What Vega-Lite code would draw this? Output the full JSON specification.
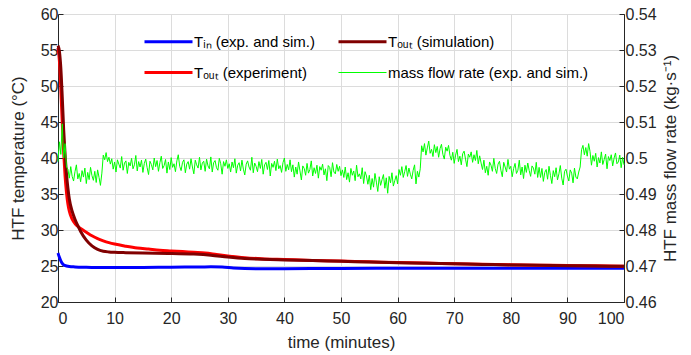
{
"$schema": "https://vega.github.io/schema/vega-lite/v6.json",
"width": 566, "height": 288,
"autosize": {"type": "none"},
"padding": {"left": 58, "top": 14, "right": 67, "bottom": 53},
"background": "white",
"config": {
  "font": "Liberation Sans",
  "view": {"stroke": "#262626", "strokeWidth": 1},
  "axis": {"labelFontSize": 16, "titleFontSize": 17, "titleFontWeight": "normal", "labelColor": "#262626", "titleColor": "#262626", "domainColor": "#262626", "tickColor": "#262626", "tickSize": -5, "gridColor": "#dcdcdc", "gridWidth": 1, "labelPadding": 5},
  "legend": {"orient": "none", "legendX": 103, "legendY": 20, "columns": 2, "symbolType": "M-2.4,0H2.4", "symbolSize": 400, "labelOffset": 18, "columnPadding": 17, "rowPadding": 15, "labelFontSize": 15, "labelColor": "#000000", "labelLimit": 0, "padding": 0, "symbolStrokeWidth": 3}
},
"datasets": {
"temp": [
{"s":"Tin","t":0,"T":26.8},{"s":"Tin","t":0.25,"T":26.2},{"s":"Tin","t":0.5,"T":25.7},{"s":"Tin","t":0.75,"T":25.35},{"s":"Tin","t":1,"T":25.15},{"s":"Tin","t":1.5,"T":25.0},{"s":"Tin","t":2,"T":24.92},{"s":"Tin","t":3,"T":24.87},{"s":"Tin","t":5,"T":24.82},{"s":"Tin","t":8,"T":24.78},{"s":"Tin","t":10,"T":24.78},{"s":"Tin","t":15,"T":24.8},{"s":"Tin","t":20,"T":24.83},{"s":"Tin","t":25,"T":24.87},{"s":"Tin","t":27,"T":24.88},{"s":"Tin","t":29,"T":24.85},{"s":"Tin","t":31,"T":24.72},{"s":"Tin","t":33,"T":24.65},{"s":"Tin","t":36,"T":24.62},{"s":"Tin","t":40,"T":24.63},{"s":"Tin","t":50,"T":24.67},{"s":"Tin","t":60,"T":24.7},{"s":"Tin","t":70,"T":24.7},{"s":"Tin","t":80,"T":24.7},{"s":"Tin","t":90,"T":24.7},{"s":"Tin","t":100,"T":24.68},
{"s":"ToutExp","t":0,"T":55.3},{"s":"ToutExp","t":0.25,"T":53.5},{"s":"ToutExp","t":0.5,"T":49.5},{"s":"ToutExp","t":0.75,"T":45.0},{"s":"ToutExp","t":1,"T":40.8},{"s":"ToutExp","t":1.25,"T":37.5},{"s":"ToutExp","t":1.5,"T":35.2},{"s":"ToutExp","t":1.75,"T":33.6},{"s":"ToutExp","t":2,"T":32.6},{"s":"ToutExp","t":2.5,"T":31.5},{"s":"ToutExp","t":3,"T":30.9},{"s":"ToutExp","t":3.5,"T":30.5},{"s":"ToutExp","t":4,"T":30.2},{"s":"ToutExp","t":5,"T":29.7},{"s":"ToutExp","t":6,"T":29.2},{"s":"ToutExp","t":7,"T":28.8},{"s":"ToutExp","t":8,"T":28.5},{"s":"ToutExp","t":9,"T":28.25},{"s":"ToutExp","t":10,"T":28.05},{"s":"ToutExp","t":12,"T":27.75},{"s":"ToutExp","t":14,"T":27.5},{"s":"ToutExp","t":16,"T":27.35},{"s":"ToutExp","t":18,"T":27.2},{"s":"ToutExp","t":20,"T":27.1},{"s":"ToutExp","t":22,"T":27.0},{"s":"ToutExp","t":24,"T":26.9},{"s":"ToutExp","t":26,"T":26.8},{"s":"ToutExp","t":28,"T":26.6},{"s":"ToutExp","t":30,"T":26.4},{"s":"ToutExp","t":33,"T":26.15},{"s":"ToutExp","t":36,"T":26.0},{"s":"ToutExp","t":40,"T":25.9},{"s":"ToutExp","t":45,"T":25.78},{"s":"ToutExp","t":50,"T":25.68},{"s":"ToutExp","t":55,"T":25.58},{"s":"ToutExp","t":60,"T":25.48},{"s":"ToutExp","t":65,"T":25.4},{"s":"ToutExp","t":70,"T":25.32},{"s":"ToutExp","t":75,"T":25.25},{"s":"ToutExp","t":80,"T":25.18},{"s":"ToutExp","t":85,"T":25.12},{"s":"ToutExp","t":90,"T":25.07},{"s":"ToutExp","t":95,"T":25.03},{"s":"ToutExp","t":100,"T":24.98},
{"s":"ToutSim","t":0,"T":55.6},{"s":"ToutSim","t":0.25,"T":54.8},{"s":"ToutSim","t":0.5,"T":52.5},{"s":"ToutSim","t":0.75,"T":48.5},{"s":"ToutSim","t":1,"T":44.0},{"s":"ToutSim","t":1.25,"T":40.5},{"s":"ToutSim","t":1.5,"T":37.8},{"s":"ToutSim","t":1.75,"T":35.8},{"s":"ToutSim","t":2,"T":34.3},{"s":"ToutSim","t":2.5,"T":32.6},{"s":"ToutSim","t":3,"T":31.5},{"s":"ToutSim","t":3.5,"T":30.6},{"s":"ToutSim","t":4,"T":29.8},{"s":"ToutSim","t":5,"T":28.6},{"s":"ToutSim","t":6,"T":27.8},{"s":"ToutSim","t":7,"T":27.3},{"s":"ToutSim","t":8,"T":27.05},{"s":"ToutSim","t":9,"T":26.95},{"s":"ToutSim","t":10,"T":26.9},{"s":"ToutSim","t":12,"T":26.85},{"s":"ToutSim","t":15,"T":26.8},{"s":"ToutSim","t":20,"T":26.75},{"s":"ToutSim","t":24,"T":26.65},{"s":"ToutSim","t":27,"T":26.5},{"s":"ToutSim","t":30,"T":26.25},{"s":"ToutSim","t":33,"T":26.05},{"s":"ToutSim","t":36,"T":25.95},{"s":"ToutSim","t":40,"T":25.85},{"s":"ToutSim","t":45,"T":25.75},{"s":"ToutSim","t":50,"T":25.65},{"s":"ToutSim","t":55,"T":25.55},{"s":"ToutSim","t":60,"T":25.45},{"s":"ToutSim","t":65,"T":25.38},{"s":"ToutSim","t":70,"T":25.3},{"s":"ToutSim","t":75,"T":25.22},{"s":"ToutSim","t":80,"T":25.15},{"s":"ToutSim","t":85,"T":25.1},{"s":"ToutSim","t":90,"T":25.05},{"s":"ToutSim","t":95,"T":25.0},{"s":"ToutSim","t":100,"T":24.95}
],
"flow": [
{"t":0,"m":0.4990},{"t":0.25,"m":0.5045},{"t":0.5,"m":0.5010},{"t":0.75,"m":0.5095},{"t":1,"m":0.5000},{"t":1.25,"m":0.5040},{"t":1.5,"m":0.4975},
{"t":1.75,"m":0.4969},{"t":2,"m":0.4944},{"t":2.25,"m":0.4976},{"t":2.5,"m":0.4949},{"t":2.75,"m":0.4936},{"t":3,"m":0.4962},{"t":3.25,"m":0.4981},{"t":3.5,"m":0.4942},{"t":3.75,"m":0.4957},{"t":4,"m":0.4934},{"t":4.25,"m":0.4965},{"t":4.5,"m":0.4947},{"t":4.75,"m":0.4972},{"t":5,"m":0.4929},{"t":5.25,"m":0.4960},{"t":5.5,"m":0.4940},{"t":5.75,"m":0.4974},{"t":6,"m":0.4951},{"t":6.25,"m":0.4938},{"t":6.5,"m":0.4963},{"t":6.75,"m":0.4932},{"t":7,"m":0.4967},{"t":7.25,"m":0.4946},{"t":7.5,"m":0.4924},{"t":7.75,"m":0.4958},
{"t":8,"m":0.5008},{"t":8.25,"m":0.4995},{"t":8.5,"m":0.5015},{"t":8.75,"m":0.4990},{"t":9,"m":0.5002},{"t":9.25,"m":0.4983},{"t":9.5,"m":0.4998},
{"t":9.75,"m":0.4969},{"t":10,"m":0.4989},{"t":10.25,"m":0.4961},{"t":10.5,"m":0.4995},{"t":10.75,"m":0.4983},{"t":11,"m":0.4972},{"t":11.25,"m":0.5004},{"t":11.5,"m":0.4966},{"t":11.75,"m":0.4986},{"t":12,"m":0.4992},{"t":12.25,"m":0.4957},{"t":12.5,"m":0.4988},{"t":12.75,"m":0.4978},{"t":13,"m":0.4999},{"t":13.25,"m":0.4970},{"t":13.5,"m":0.4981},{"t":13.75,"m":0.5007},{"t":14,"m":0.4964},{"t":14.25,"m":0.4990},{"t":14.5,"m":0.4975},{"t":14.75,"m":0.4994},{"t":15,"m":0.4960},{"t":15.25,"m":0.4985},{"t":15.5,"m":0.4997},{"t":15.75,"m":0.4973},{"t":16,"m":0.4954},{"t":16.25,"m":0.4991},{"t":16.5,"m":0.4982},{"t":16.75,"m":0.4967},{"t":17,"m":0.5000},{"t":17.25,"m":0.4976},{"t":17.5,"m":0.4993},{"t":17.75,"m":0.4963},{"t":18,"m":0.4987},{"t":18.25,"m":0.5005},{"t":18.5,"m":0.4971},{"t":18.75,"m":0.4979},{"t":19,"m":0.4996},{"t":19.25,"m":0.4958},{"t":19.5,"m":0.4989},{"t":19.75,"m":0.4968},{"t":20,"m":0.5001},{"t":20.25,"m":0.4974},{"t":20.5,"m":0.4984},{"t":20.75,"m":0.4962},{"t":21,"m":0.4992},{"t":21.25,"m":0.5009},{"t":21.5,"m":0.4977},{"t":21.75,"m":0.4965},{"t":22,"m":0.4988},{"t":22.25,"m":0.4995},{"t":22.5,"m":0.4959},{"t":22.75,"m":0.4983},{"t":23,"m":0.4990},{"t":23.25,"m":0.4969},{"t":23.5,"m":0.4998},{"t":23.75,"m":0.4975},{"t":24,"m":0.4956},{"t":24.25,"m":0.4994},{"t":24.5,"m":0.4981},{"t":24.75,"m":0.4972},{"t":25,"m":0.5002},{"t":25.25,"m":0.4967},{"t":25.5,"m":0.4986},{"t":25.75,"m":0.4991},{"t":26,"m":0.4963},{"t":26.25,"m":0.4997},{"t":26.5,"m":0.4978},{"t":26.75,"m":0.4970},{"t":27,"m":0.5003},{"t":27.25,"m":0.4961},{"t":27.5,"m":0.4987},{"t":27.75,"m":0.4993},{"t":28,"m":0.4973},{"t":28.25,"m":0.4966},{"t":28.5,"m":0.4999},{"t":28.75,"m":0.4984},{"t":29,"m":0.4955},{"t":29.25,"m":0.4990},{"t":29.5,"m":0.4977},{"t":29.75,"m":0.4995},{"t":30,"m":0.4971},
{"t":30.25,"m":0.4984},{"t":30.5,"m":0.4961},{"t":30.75,"m":0.4989},{"t":31,"m":0.4973},{"t":31.25,"m":0.4998},{"t":31.5,"m":0.4958},{"t":31.75,"m":0.4980},{"t":32,"m":0.4987},{"t":32.25,"m":0.4964},{"t":32.5,"m":0.4994},{"t":32.75,"m":0.4969},{"t":33,"m":0.4953},{"t":33.25,"m":0.4983},{"t":33.5,"m":0.4992},{"t":33.75,"m":0.4975},{"t":34,"m":0.4966},{"t":34.25,"m":0.5002},{"t":34.5,"m":0.4959},{"t":34.75,"m":0.4986},{"t":35,"m":0.4977},{"t":35.25,"m":0.4962},{"t":35.5,"m":0.4990},{"t":35.75,"m":0.4971},{"t":36,"m":0.4996},{"t":36.25,"m":0.4955},{"t":36.5,"m":0.4981},{"t":36.75,"m":0.4988},{"t":37,"m":0.4968},{"t":37.25,"m":0.4993},{"t":37.5,"m":0.4950},{"t":37.75,"m":0.4985},{"t":38,"m":0.4974},{"t":38.25,"m":0.4991},{"t":38.5,"m":0.4965},{"t":38.75,"m":0.4997},{"t":39,"m":0.4970},{"t":39.25,"m":0.4979},{"t":39.5,"m":0.4960},{"t":39.75,"m":0.4987},{"t":40,"m":0.5000},{"t":40.25,"m":0.4963},{"t":40.5,"m":0.4982},{"t":40.75,"m":0.4967},{"t":41,"m":0.4995},
{"t":41.25,"m":0.4962},{"t":41.5,"m":0.4981},{"t":41.75,"m":0.4947},{"t":42,"m":0.4975},{"t":42.25,"m":0.4955},{"t":42.5,"m":0.4989},{"t":42.75,"m":0.4964},{"t":43,"m":0.4939},{"t":43.25,"m":0.4978},{"t":43.5,"m":0.4971},{"t":43.75,"m":0.4952},{"t":44,"m":0.4985},{"t":44.25,"m":0.4958},{"t":44.5,"m":0.4968},{"t":44.75,"m":0.4992},{"t":45,"m":0.4950},{"t":45.25,"m":0.4973},{"t":45.5,"m":0.4957},{"t":45.75,"m":0.4980},{"t":46,"m":0.4944},{"t":46.25,"m":0.4976},{"t":46.5,"m":0.4966},{"t":46.75,"m":0.4983},{"t":47,"m":0.4953},{"t":47.25,"m":0.4970},{"t":47.5,"m":0.4937},{"t":47.75,"m":0.4979},{"t":48,"m":0.4974},{"t":48.25,"m":0.4948},{"t":48.5,"m":0.4987},{"t":48.75,"m":0.4961},{"t":49,"m":0.4956},{"t":49.25,"m":0.4982},{"t":49.5,"m":0.4963},{"t":49.75,"m":0.4977},{"t":50,"m":0.4951},
{"t":50.25,"m":0.4967},{"t":50.5,"m":0.4946},{"t":50.75,"m":0.4975},{"t":51,"m":0.4940},{"t":51.25,"m":0.4959},{"t":51.5,"m":0.4933},{"t":51.75,"m":0.4971},{"t":52,"m":0.4952},{"t":52.25,"m":0.4964},{"t":52.5,"m":0.4937},{"t":52.75,"m":0.4980},{"t":53,"m":0.4948},{"t":53.25,"m":0.4956},{"t":53.5,"m":0.4942},{"t":53.75,"m":0.4973},{"t":54,"m":0.4929},{"t":54.25,"m":0.4962},{"t":54.5,"m":0.4950},
{"t":54.75,"m":0.4927},{"t":55,"m":0.4952},{"t":55.25,"m":0.4912},{"t":55.5,"m":0.4943},{"t":55.75,"m":0.4919},{"t":56,"m":0.4957},{"t":56.25,"m":0.4933},{"t":56.5,"m":0.4907},{"t":56.75,"m":0.4948},{"t":57,"m":0.4924},{"t":57.25,"m":0.4940},{"t":57.5,"m":0.4954},{"t":57.75,"m":0.4916},{"t":58,"m":0.4945},{"t":58.25,"m":0.4902},{"t":58.5,"m":0.4949},{"t":58.75,"m":0.4931},{"t":59,"m":0.4959},{"t":59.25,"m":0.4922},{"t":59.5,"m":0.4937},{"t":59.75,"m":0.4951},{"t":60,"m":0.4928},
{"t":60.25,"m":0.4968},{"t":60.5,"m":0.4952},{"t":60.75,"m":0.4976},{"t":61,"m":0.4946},{"t":61.25,"m":0.4962},{"t":61.5,"m":0.4979},{"t":61.75,"m":0.4949},{"t":62,"m":0.4972},{"t":62.25,"m":0.4955},{"t":62.5,"m":0.4942},{"t":62.75,"m":0.4966},{"t":63,"m":0.4981},{"t":63.25,"m":0.4928},{"t":63.5,"m":0.4963},{"t":63.75,"m":0.4947},{"t":64,"m":0.4970},
{"t":64.25,"m":0.5034},{"t":64.5,"m":0.5017},{"t":64.75,"m":0.5040},{"t":65,"m":0.5008},{"t":65.25,"m":0.5028},{"t":65.5,"m":0.5047},{"t":65.75,"m":0.5013},{"t":66,"m":0.5024},{"t":66.25,"m":0.5004},{"t":66.5,"m":0.5037},{"t":66.75,"m":0.5015},{"t":67,"m":0.5032},{"t":67.25,"m":0.5002},{"t":67.5,"m":0.5026},{"t":67.75,"m":0.5038},{"t":68,"m":0.5010},{"t":68.25,"m":0.4997},{"t":68.5,"m":0.5030},{"t":68.75,"m":0.5019},{"t":69,"m":0.5035},{"t":69.25,"m":0.5007},
{"t":69.5,"m":0.4994},{"t":69.75,"m":0.5016},{"t":70,"m":0.4985},{"t":70.25,"m":0.5008},{"t":70.5,"m":0.5024},{"t":70.75,"m":0.4990},{"t":71,"m":0.5005},{"t":71.25,"m":0.4981},{"t":71.5,"m":0.5012},{"t":71.75,"m":0.5019},{"t":72,"m":0.4997},{"t":72.25,"m":0.4976},{"t":72.5,"m":0.5011},{"t":72.75,"m":0.5002},{"t":73,"m":0.5017},{"t":73.25,"m":0.4988},{"t":73.5,"m":0.5009},{"t":73.75,"m":0.4993},{"t":74,"m":0.5021},{"t":74.25,"m":0.4984},{"t":74.5,"m":0.5006},
{"t":74.75,"m":0.4986},{"t":75,"m":0.4968},{"t":75.25,"m":0.4994},{"t":75.5,"m":0.4959},{"t":75.75,"m":0.4977},{"t":76,"m":0.4952},{"t":76.25,"m":0.4989},{"t":76.5,"m":0.4980},{"t":76.75,"m":0.4963},{"t":77,"m":0.4999},{"t":77.25,"m":0.4971},{"t":77.5,"m":0.4957},{"t":77.75,"m":0.4983},{"t":78,"m":0.4991},{"t":78.25,"m":0.4966},{"t":78.5,"m":0.4948},{"t":78.75,"m":0.4988},{"t":79,"m":0.4975},{"t":79.25,"m":0.4961},{"t":79.5,"m":0.4996},{"t":79.75,"m":0.4969},{"t":80,"m":0.4977},{"t":80.25,"m":0.4948},{"t":80.5,"m":0.4971},{"t":80.75,"m":0.4985},{"t":81,"m":0.4957},{"t":81.25,"m":0.4966},{"t":81.5,"m":0.4994},{"t":81.75,"m":0.4953},{"t":82,"m":0.4975},{"t":82.25,"m":0.4943},{"t":82.5,"m":0.4980},{"t":82.75,"m":0.4960},{"t":83,"m":0.4986},{"t":83.25,"m":0.4965},{"t":83.5,"m":0.4949},{"t":83.75,"m":0.4978},{"t":84,"m":0.4972},{"t":84.25,"m":0.4955},{"t":84.5,"m":0.4988},{"t":84.75,"m":0.4946},{"t":85,"m":0.4974},
{"t":85.25,"m":0.4946},{"t":85.5,"m":0.4971},{"t":85.75,"m":0.4935},{"t":86,"m":0.4960},{"t":86.25,"m":0.4968},{"t":86.5,"m":0.4941},{"t":86.75,"m":0.4977},{"t":87,"m":0.4952},{"t":87.25,"m":0.4929},{"t":87.5,"m":0.4965},{"t":87.75,"m":0.4948},{"t":88,"m":0.4973},{"t":88.25,"m":0.4939},{"t":88.5,"m":0.4956},{"t":88.75,"m":0.4979},{"t":89,"m":0.4944},{"t":89.25,"m":0.4925},{"t":89.5,"m":0.4963},{"t":89.75,"m":0.4969},{"t":90,"m":0.4950},{"t":90.25,"m":0.4936},{"t":90.5,"m":0.4967},{"t":90.75,"m":0.4958},{"t":91,"m":0.4931},{"t":91.25,"m":0.4972},{"t":91.5,"m":0.4947},{"t":91.75,"m":0.4942},{"t":92,"m":0.4961},{"t":92.25,"m":0.4975},
{"t":92.5,"m":0.5023},{"t":92.75,"m":0.5035},{"t":93,"m":0.5009},{"t":93.25,"m":0.5029},{"t":93.5,"m":0.5005},{"t":93.75,"m":0.5040},{"t":94,"m":0.5018},{"t":94.25,"m":0.4980},{"t":94.5,"m":0.5007},{"t":94.75,"m":0.4991},{"t":95,"m":0.5013},{"t":95.25,"m":0.4975},{"t":95.5,"m":0.5001},{"t":95.75,"m":0.4986},{"t":96,"m":0.5017},{"t":96.25,"m":0.4982},{"t":96.5,"m":0.4996},{"t":96.75,"m":0.5011},{"t":97,"m":0.4970},{"t":97.25,"m":0.5004},{"t":97.5,"m":0.4993},{"t":97.75,"m":0.5009},{"t":98,"m":0.4978},{"t":98.25,"m":0.5000},{"t":98.5,"m":0.5014},{"t":98.75,"m":0.4984},{"t":99,"m":0.4989},{"t":99.25,"m":0.5008},{"t":99.5,"m":0.4973},{"t":99.75,"m":0.5002},{"t":100,"m":0.4981}
]
},
"layer": [
  {
    "data": {"name": "temp"},
    "mark": {"type": "line", "strokeWidth": 3, "interpolate": "monotone"},
    "encoding": {
      "x": {"field": "t", "type": "quantitative", "scale": {"domain": [0, 100], "nice": false}, "axis": {"title": "time (minutes)", "values": [0,10,20,30,40,50,60,70,80,90,100], "grid": true, "labelPadding": 13, "titlePadding": 8}},
      "y": {"field": "T", "type": "quantitative", "scale": {"domain": [20, 60], "nice": false, "zero": false}, "axis": {"title": "HTF temperature (°C)", "orient": "left", "values": [20,25,30,35,40,45,50,55,60], "grid": true, "titlePadding": 13}},
      "color": {"field": "s", "type": "nominal", "scale": {"domain": ["Tin", "ToutSim", "ToutExp", "flow"], "range": ["#0000ff", "#800000", "#ff0000", "#00ff00"]},
        "legend": {"title": null, "values": ["Tin", "ToutExp", "ToutSim", "flow"], "labelExpr": "datum.value == 'Tin' ? 'Tᵢₙ (exp. and sim.)' : datum.value == 'ToutSim' ? 'Tₒᵤₜ (simulation)' : datum.value == 'ToutExp' ? 'Tₒᵤₜ (experiment)' : 'mass flow rate (exp. and sim.)'",
          "encode": {"symbols": {"update": {"strokeWidth": {"signal": "datum.value === 'flow' ? 1 : 3"}}}}}}
    }
  },
  {
    "data": {"name": "flow"},
    "mark": {"type": "line", "strokeWidth": 1},
    "encoding": {
      "x": {"field": "t", "type": "quantitative"},
      "y": {"field": "m", "type": "quantitative", "scale": {"domain": [0.46, 0.54], "nice": false, "zero": false}, "axis": {"title": "HTF mass flow rate (kg·s⁻¹)", "orient": "right", "values": [0.46,0.47,0.48,0.49,0.5,0.51,0.52,0.53,0.54], "grid": false, "labelPadding": 6, "titleAngle": 270, "titleBaseline": "top", "titlePadding": 6, "labelExpr": "format(datum.value, '~g')"}},
      "color": {"datum": "flow"}
    }
  }
],
"resolve": {"scale": {"y": "independent"}}
}
